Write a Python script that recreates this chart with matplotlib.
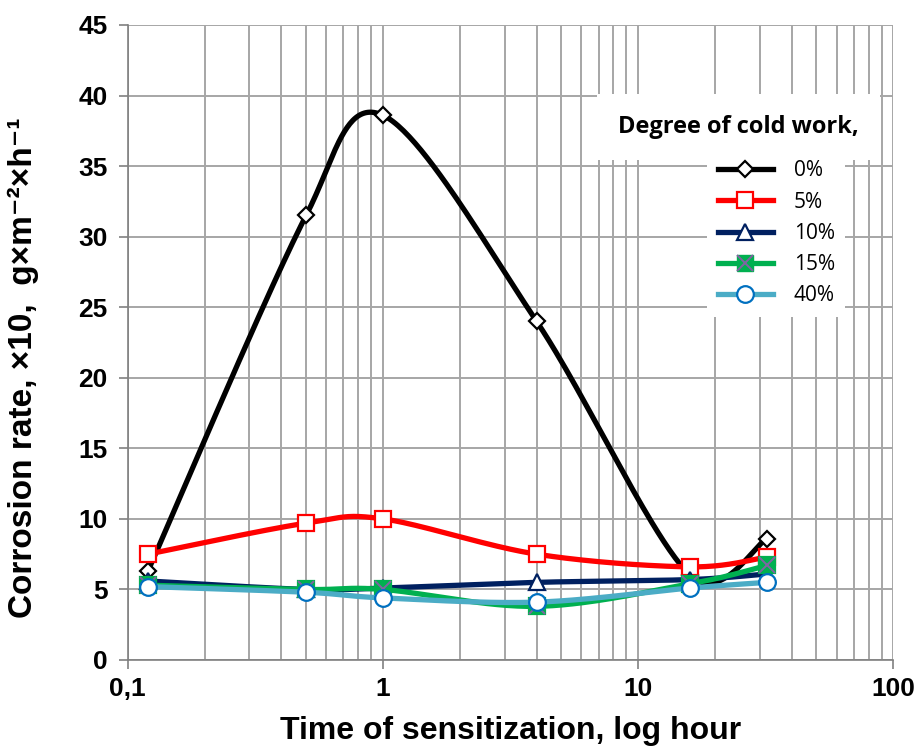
import numpy as np
import matplotlib
matplotlib.use("Agg")
import matplotlib.pyplot as plt
from matplotlib.ticker import LogLocator, NullFormatter
from matplotlib.lines import Line2D

plt.rcParams['font.family'] = ['Liberation Sans', 'DejaVu Sans']
plt.rcParams['font.weight'] = 'bold'

times = [0.12, 0.5, 1, 4, 16, 32]
cw0 = [6.3, 31.5, 38.6, 24.0, 6.0, 8.6]
cw5 = [7.5, 9.7, 10.0, 7.5, 6.6, 7.3]
cw10 = [5.6, 5.0, 5.1, 5.5, 5.7, 6.1]
cw15 = [5.3, 5.0, 5.0, 3.8, 5.4, 6.7]
cw40 = [5.2, 4.8, 4.4, 4.1, 5.1, 5.5]
labels = ['0%', '5%', '10%', '15%', '40%']
xticks = [0.1, 1, 10, 100]
xticklabels = ['0,1', '1', '10', '100']
yticks = [0, 5, 10, 15, 20, 25, 30, 35, 40, 45]

fig = plt.figure(figsize=(9.19, 7.56), dpi=100)
ax = fig.add_axes([0.139, 0.127, 0.833, 0.840])
ax.set_xscale('log')
ax.set_xlim(0.1, 100)
ax.set_ylim(0, 45)


def smooth(x, y, n=50):
    """Excel-like smoothed Bezier through the points, computed in display space."""
    P = ax.transData.transform(np.column_stack([x, y]))
    out = []
    for i in range(len(P) - 1):
        p0 = P[i - 1] if i > 0 else P[i]
        p1 = P[i]
        p2 = P[i + 1]
        p3 = P[i + 2] if i + 2 < len(P) else P[i + 1]
        L = np.hypot(*(p2 - p1))
        v1 = (p2 - p0) / 6.0
        v2 = (p3 - p1) / 6.0
        for v in (v1, v2):
            m = np.hypot(*v)
            if m > L / 2 and m > 0:
                v *= (L / 2) / m
        c1 = p1 + v1
        c2 = p2 - v2
        t = np.linspace(0, 1, n)[:, None]
        b = ((1 - t) ** 3) * p1 + 3 * ((1 - t) ** 2) * t * c1 + 3 * (1 - t) * t ** 2 * c2 + t ** 3 * p2
        out.append(b if i == 0 else b[1:])
    out = np.vstack(out)
    d = ax.transData.inverted().transform(out)
    return d[:, 0], d[:, 1]


gridc = '#a6a6a6'
ax.grid(True, which='major', axis='both', color=gridc, lw=1.4, zorder=0)
ax.grid(True, which='minor', axis='x', color=gridc, lw=1.4, zorder=0)
ax.xaxis.set_minor_locator(LogLocator(base=10, subs=np.arange(2, 10)))
ax.xaxis.set_minor_formatter(NullFormatter())
ax.set_xticks(xticks)
ax.set_xticklabels(xticklabels)
ax.set_yticks(yticks)
ax.tick_params(axis='both', which='major', labelsize=19, color='#808080', length=6.5, width=1.2)
ax.tick_params(axis='y', which='major', pad=8)
ax.tick_params(axis='x', which='major', pad=6)
ax.tick_params(axis='x', which='minor', length=0)
for s in ['top', 'right']:
    ax.spines[s].set_visible(False)
for s in ['left', 'bottom']:
    ax.spines[s].set_color('#808080')
    ax.spines[s].set_linewidth(1.2)

series = [
    (cw0, '#000000', 'D', 'white', '#000000', 8),
    (cw5, '#ff0000', 's', 'white', '#ff0000', 12),
    (cw10, '#002060', '^', 'white', '#002060', 11),
    (cw15, '#00b050', 's', '#00b050', '#00b050', 11),
    (cw40, '#4bacc6', 'o', 'white', '#0070c0', 12),
]
handles = []
for i, (vals, lc, mk, mf, me, ms) in enumerate(series):
    sx, sy = smooth(times, vals)
    z = 3 + i
    ax.plot(sx, sy, color=lc, lw=3.8, zorder=z, solid_capstyle='round')
    ax.plot(times, vals, ls='none', marker=mk, ms=ms, mfc=mf, mec=me, mew=1.6, zorder=z + 0.5)
    if i == 3:
        ax.plot(times, vals, ls='none', marker='x', ms=ms, mec='#8064a2', mew=1.4, zorder=z + 0.6)
        h = (Line2D([], [], color=lc, lw=3.8, marker=mk, ms=ms, mfc=mf, mec=me),
             Line2D([], [], ls='none', marker='x', ms=ms, mec='#8064a2', mew=1.4))
    else:
        h = Line2D([], [], color=lc, lw=3.8, marker=mk, ms=ms, mfc=mf, mec=me, mew=1.6)
    handles.append(h)

ax.set_xlabel('Time of sensitization, log hour', fontsize=23, fontweight='bold')
ax.xaxis.set_label_coords(0.5, -0.088)
ax.set_ylabel('Corrosion rate, ×10,  g×m⁻²×h⁻¹', fontsize=24, fontweight='bold')
ax.yaxis.set_label_coords(-0.116, 0.46)

ax.text(0.955, 0.839, 'Degree of cold work,', transform=ax.transAxes, ha='right', va='center',
        fontsize=17, fontweight='bold', zorder=20, family=['Open Sans', 'DejaVu Sans'],
        bbox=dict(facecolor='white', edgecolor='none', boxstyle='square,pad=0.9'))
leg = ax.legend(handles, labels, loc='upper left', bbox_to_anchor=(0.757, 0.803), frameon=True,
                handlelength=2.65, labelspacing=0.49, borderpad=0.5, handletextpad=1.0,
                borderaxespad=0.0,
                prop={'family': ['Open Sans', 'DejaVu Sans'], 'size': 15, 'weight': 'normal'})
leg.get_frame().set_edgecolor('none')
leg.get_frame().set_facecolor('white')
leg.get_frame().set_alpha(1)
leg.get_frame().set_boxstyle('square', pad=0)
leg.set_zorder(20)

fig.savefig('out.png', dpi=100)
